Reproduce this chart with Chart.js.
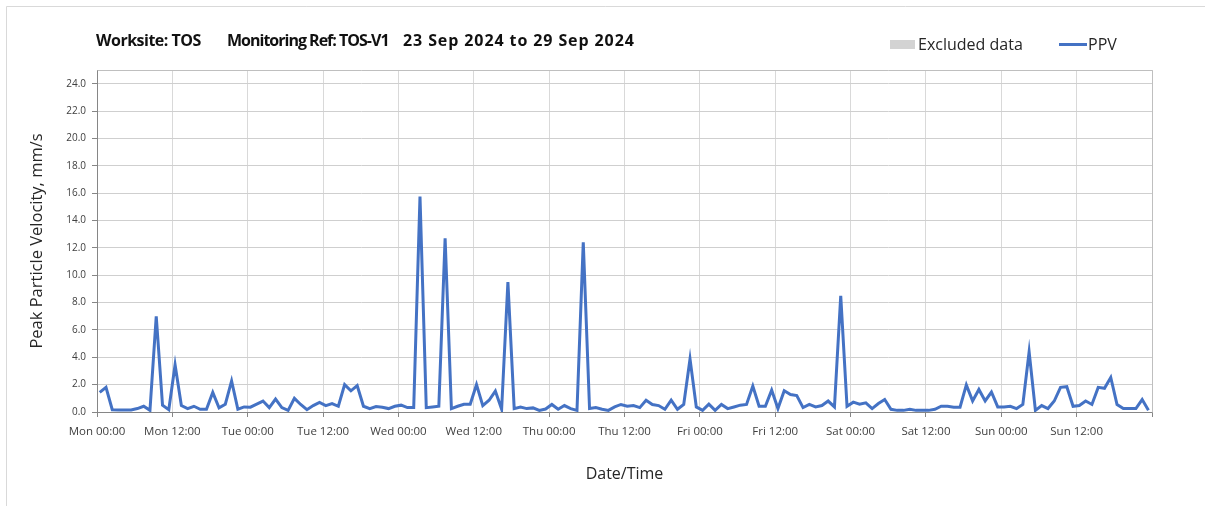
<!DOCTYPE html>
<html>
<head>
<meta charset="utf-8">
<title>PPV TOS-V1</title>
<script src="https://cdn.jsdelivr.net/npm/chart.js@4.4.1/dist/chart.umd.min.js"></script>
<style>
  html, body { margin: 0; padding: 0; background: #fff; }
  #wrap { position: relative; width: 1205px; height: 506px; }
</style>
</head>
<body>
<div id="wrap"><canvas id="ppvChart" width="1205" height="506"></canvas></div>
<script>
// Week of 23-29 Sep 2024, one reading per hour (logged at :26 past)
const dayNames = ['Mon', 'Tue', 'Wed', 'Thu', 'Fri', 'Sat', 'Sun'];
const readingMinute = 26;

// Peak particle velocity, mm/s, hour by hour from Mon 00:26
const ppvMon = [1.43, 1.8, 0.17, 0.15, 0.15, 0.15, 0.25, 0.42, 0.12, 7.0, 0.5, 0.17,
                3.45, 0.47, 0.25, 0.42, 0.2, 0.2, 1.43, 0.3, 0.57, 2.27, 0.2, 0.37];
const ppvTue = [0.35, 0.57, 0.8, 0.32, 0.94, 0.32, 0.12, 1.0, 0.55, 0.17, 0.47, 0.7,
                0.47, 0.62, 0.42, 2.0, 1.55, 1.93, 0.42, 0.25, 0.4, 0.35, 0.25, 0.42];
const ppvWed = [0.5, 0.32, 0.32, 15.75, 0.32, 0.37, 0.42, 12.7, 0.25, 0.42, 0.57, 0.57,
                2.0, 0.47, 0.86, 1.53, 0.2, 9.5, 0.25, 0.37, 0.25, 0.3, 0.12, 0.22];
const ppvThu = [0.55, 0.2, 0.47, 0.25, 0.12, 12.4, 0.25, 0.32, 0.2, 0.12, 0.37, 0.55,
                0.42, 0.47, 0.32, 0.86, 0.55, 0.47, 0.2, 0.86, 0.2, 0.55, 3.88, 0.37];
const ppvFri = [0.12, 0.57, 0.12, 0.55, 0.25, 0.37, 0.5, 0.55, 1.9, 0.42, 0.42, 1.6,
                0.25, 1.55, 1.28, 1.2, 0.32, 0.55, 0.37, 0.47, 0.8, 0.37, 8.5, 0.42];
const ppvSat = [0.72, 0.57, 0.67, 0.25, 0.62, 0.91, 0.2, 0.12, 0.12, 0.2, 0.12, 0.12,
                0.12, 0.2, 0.42, 0.42, 0.35, 0.35, 1.98, 0.81, 1.65, 0.81, 1.46, 0.37];
const ppvSun = [0.37, 0.42, 0.25, 0.55, 4.4, 0.12, 0.47, 0.25, 0.8, 1.8, 1.85, 0.42,
                0.47, 0.8, 0.55, 1.8, 1.73, 2.52, 0.55, 0.25, 0.25, 0.25, 0.91, 0.12];

const ppv = [].concat(ppvMon, ppvTue, ppvWed, ppvThu, ppvFri, ppvSat, ppvSun);
const ppvPoints = ppv.map((v, i) => ({ x: i + readingMinute / 60, y: v }));

const titleParts = ['Worksite: TOS', 'Monitoring Ref: TOS-V1', '23 Sep 2024 to 29 Sep 2024'];

const FONT = "'Open Sans', 'Noto Sans', sans-serif";

// frame, heading and legend drawn straight onto the canvas
const decorations = {
  id: 'decorations',
  beforeDraw(chart) {
    const ctx = chart.ctx;
    ctx.save();
    ctx.fillStyle = '#fff';
    ctx.fillRect(0, 0, chart.width, chart.height);
    ctx.strokeStyle = '#d9d9d9';
    ctx.lineWidth = 1;
    ctx.beginPath();
    ctx.moveTo(6.5, chart.height);
    ctx.lineTo(6.5, 6.5);
    ctx.lineTo(chart.width, 6.5);
    ctx.stroke();
    ctx.restore();
  },
  afterDraw(chart) {
    const ctx = chart.ctx;
    const area = chart.chartArea;
    ctx.save();

    // top and right edge of the plot area
    ctx.strokeStyle = '#bfbfbf';
    ctx.lineWidth = 1;
    ctx.beginPath();
    ctx.moveTo(Math.round(area.left) + 0.5, Math.round(area.top) + 0.5);
    ctx.lineTo(Math.round(area.right) + 0.5, Math.round(area.top) + 0.5);
    ctx.lineTo(Math.round(area.right) + 0.5, Math.round(area.bottom) + 0.5);
    ctx.stroke();

    // heading
    ctx.fillStyle = '#111';
    ctx.font = 'bold 16px ' + FONT;
    ctx.textBaseline = 'middle';
    const titleX = [96, 227, 403];
    const spacing = ['-0.5px', '-1px', '0.9px'];
    titleParts.forEach((t, i) => {
      ctx.letterSpacing = spacing[i];
      ctx.fillText(t, titleX[i], 41);
    });
    ctx.letterSpacing = '0px';

    // legend
    ctx.font = '16px ' + FONT;
    const excluded = chart.data.datasets[0];
    ctx.fillStyle = excluded.backgroundColor;
    ctx.fillRect(890, 40, 25, 9);
    ctx.fillStyle = '#262626';
    ctx.fillText(excluded.label, 918, 45);

    const line = chart.data.datasets[1];
    ctx.strokeStyle = line.borderColor;
    ctx.lineWidth = 3;
    ctx.beginPath();
    ctx.moveTo(1059, 44.5);
    ctx.lineTo(1087, 44.5);
    ctx.stroke();
    ctx.fillText(line.label, 1088, 45);

    ctx.restore();
  }
};

const ctx = document.getElementById('ppvChart').getContext('2d');
const chart = new Chart(ctx, {
  type: 'line',
  data: {
    datasets: [{
      label: 'Excluded data',
      data: [],
      backgroundColor: '#d3d3d3',
      borderColor: '#d3d3d3'
    }, {
      label: 'PPV',
      data: ppvPoints,
      borderColor: '#4472c4',
      backgroundColor: '#4472c4',
      borderWidth: 3,
      pointRadius: 0,
      tension: 0,
      fill: false
    }]
  },
  options: {
    responsive: false,
    devicePixelRatio: 1,
    animation: false,
    layout: {
      padding: { top: 70, right: 53, left: 0, bottom: 0 }
    },
    scales: {
      x: {
        type: 'linear',
        min: 0,
        max: 168,
        afterFit(scale) { scale.height = 94; },
        ticks: {
          stepSize: 12,
          autoSkip: false,
          maxRotation: 0,
          padding: 8,
          color: '#404040',
          font: { family: FONT, size: 11.5 },
          callback: function(value) {
            if (value >= 168) return '';
            const day = dayNames[Math.floor(value / 24)];
            return day + (value % 24 === 0 ? ' 00:00' : ' 12:00');
          }
        },
        grid: {
          color: '#d9d9d9',
          tickColor: '#868686',
          tickLength: 5
        },
        border: { color: '#868686' },
        title: {
          display: true,
          text: 'Date/Time',
          color: '#262626',
          font: { family: FONT, size: 16 },
          padding: { top: 0, bottom: 22 }
        }
      },
      y: {
        min: 0,
        max: 25,
        afterFit(scale) { scale.width = 97; },
        ticks: {
          stepSize: 2,
          includeBounds: false,
          padding: 6,
          color: '#404040',
          font: { family: FONT, size: 10 },
          callback: function(value) {
            return value.toFixed(1);
          }
        },
        grid: {
          color: '#cfcfcf',
          tickColor: '#868686',
          tickLength: 5
        },
        border: { color: '#868686' },
        title: {
          display: true,
          text: 'Peak Particle Velocity, mm/s',
          color: '#262626',
          font: { family: FONT, size: 16.5 },
          padding: { top: 27, bottom: 0 }
        }
      }
    },
    plugins: {
      legend: { display: false },
      tooltip: { enabled: false }
    }
  },
  plugins: [decorations]
});
</script>
</body>
</html>
